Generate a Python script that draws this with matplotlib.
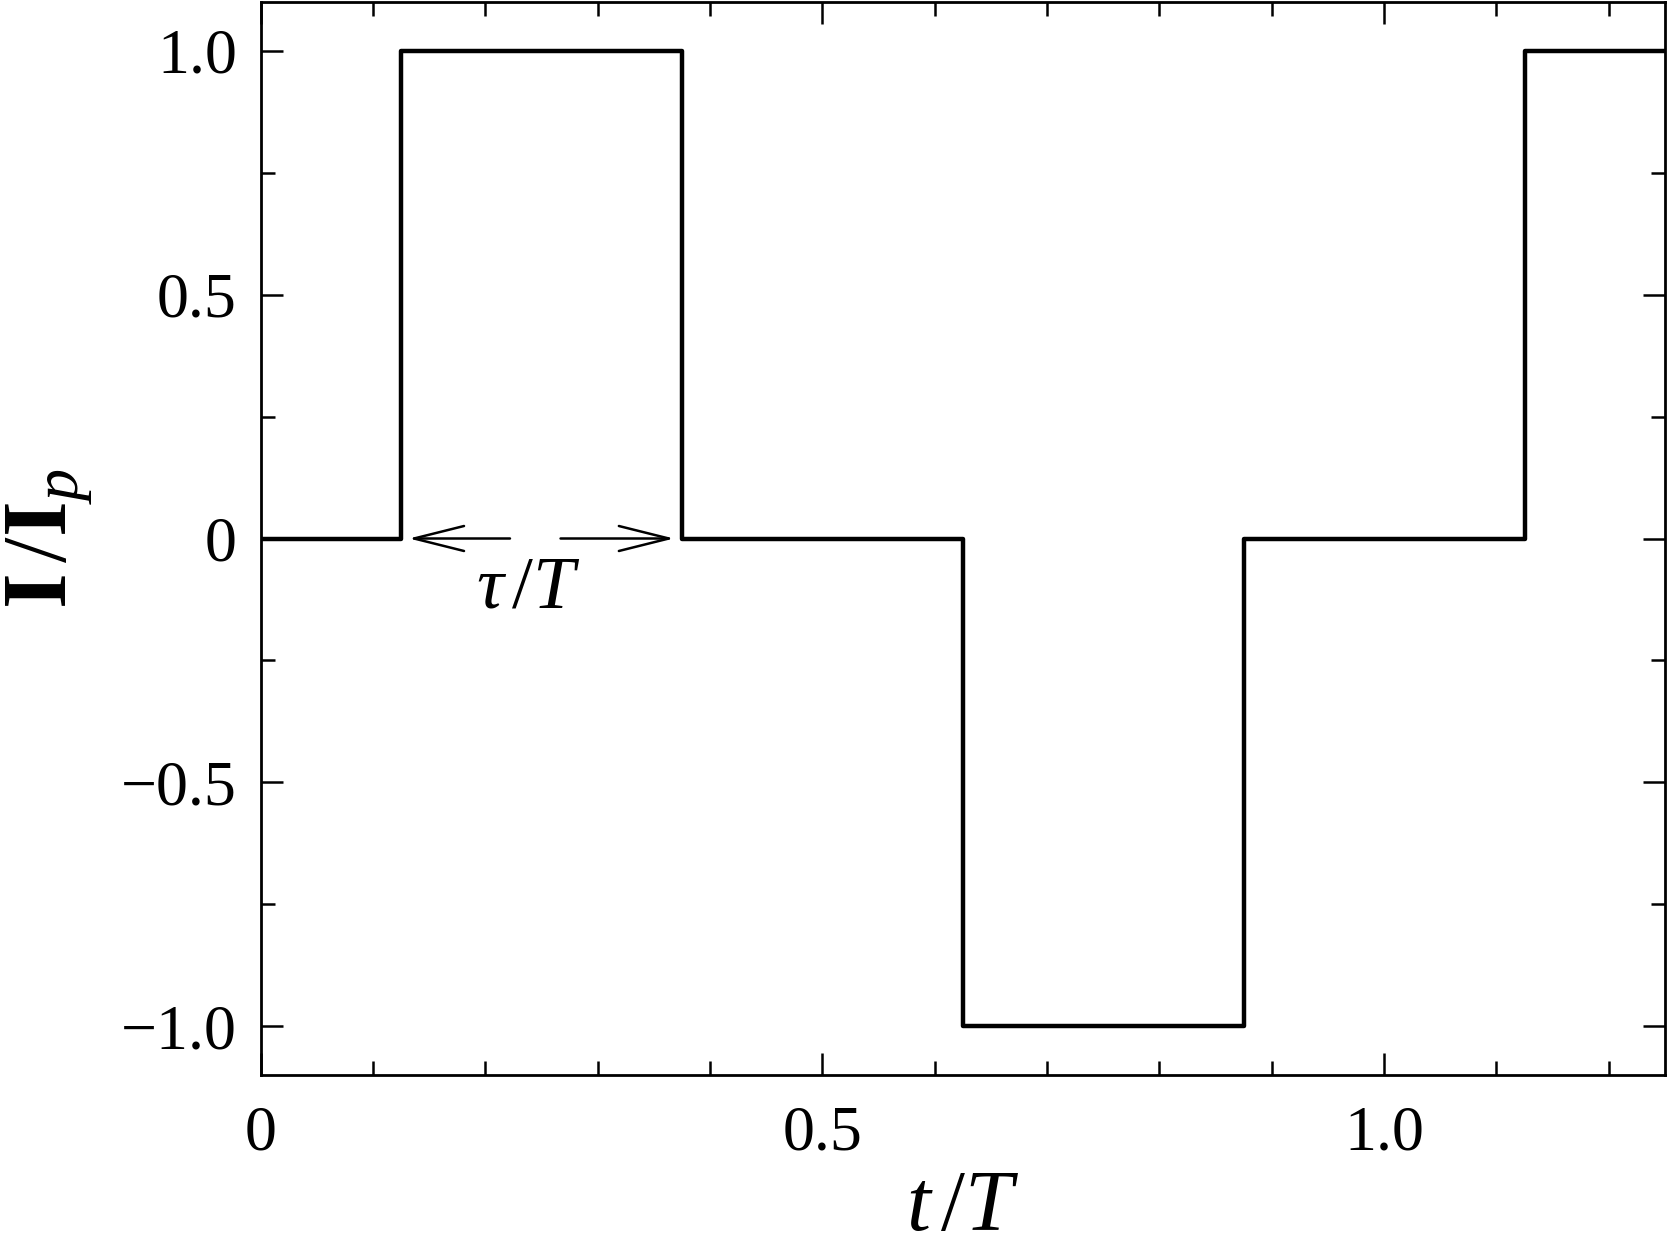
import matplotlib
matplotlib.use('Agg')
import matplotlib.pyplot as plt
from matplotlib.ticker import MultipleLocator

# step points (t/T) and current level (I/Ip)
t_edges = [0, 0.125, 0.375, 0.625, 0.875, 1.125, 1.25]
levels = [0, 1, 0, -1, 0, 1, 1]

xticks = [0, 0.5, 1.0]
xlabels = ['0', '0.5', '1.0']
yticks = [-1.0, -0.5, 0, 0.5, 1.0]
ylabels = ['\u22121.0', '\u22120.5', '0', '0.5', '1.0']

plt.rcParams['font.family'] = ['Liberation Serif', 'DejaVu Serif']
plt.rcParams['mathtext.fontset'] = 'custom'
plt.rcParams['mathtext.rm'] = 'Liberation Serif'
plt.rcParams['mathtext.it'] = 'Liberation Serif:italic'
plt.rcParams['mathtext.bf'] = 'Liberation Serif:bold'

fig = plt.figure(figsize=(16.67, 12.5), dpi=100)
ax = fig.add_axes([0.1563, 0.14, 0.8425, 0.8584])

# Dibujar la onda
ax.step(t_edges, levels, where='post', color='black', lw=3.2)

ax.set_xlim(0, 1.25)
ax.set_ylim(-1.1, 1.1)

ax.set_xticks(xticks)
ax.set_xticklabels(xlabels)
ax.set_yticks(yticks)
ax.set_yticklabels(ylabels)
ax.xaxis.set_minor_locator(MultipleLocator(0.1))
ax.yaxis.set_minor_locator(MultipleLocator(0.25))

ax.tick_params(which='both', direction='in', top=True, right=True, width=1.8, labelsize=46)
ax.tick_params(which='major', length=16)
ax.tick_params(which='minor', length=10)
ax.tick_params(axis='x', pad=22)
ax.tick_params(axis='y', pad=17)
for s in ax.spines.values():
    s.set_linewidth(2.0)

# Etiquetas
ax.set_xlabel(r'$t\,/T$', fontsize=62, labelpad=4)
ax.set_ylabel(r'$\mathbf{I}\,/\mathbf{I}_p$', fontsize=66, labelpad=18)

# flechas tau/T
arrow = dict(arrowstyle='->,head_length=1.2,head_width=0.3', color='black', lw=1.8,
             mutation_scale=30, shrinkA=0, shrinkB=0)
ax.annotate('', xy=(0.132, 0), xytext=(0.222, 0), arrowprops=arrow)
ax.annotate('', xy=(0.368, 0), xytext=(0.267, 0), arrowprops=arrow)
ax.text(0.238, -0.105, r'$\tau\,/T$', fontsize=54, ha='center', va='center')

fig.savefig('out.png', dpi=100)
